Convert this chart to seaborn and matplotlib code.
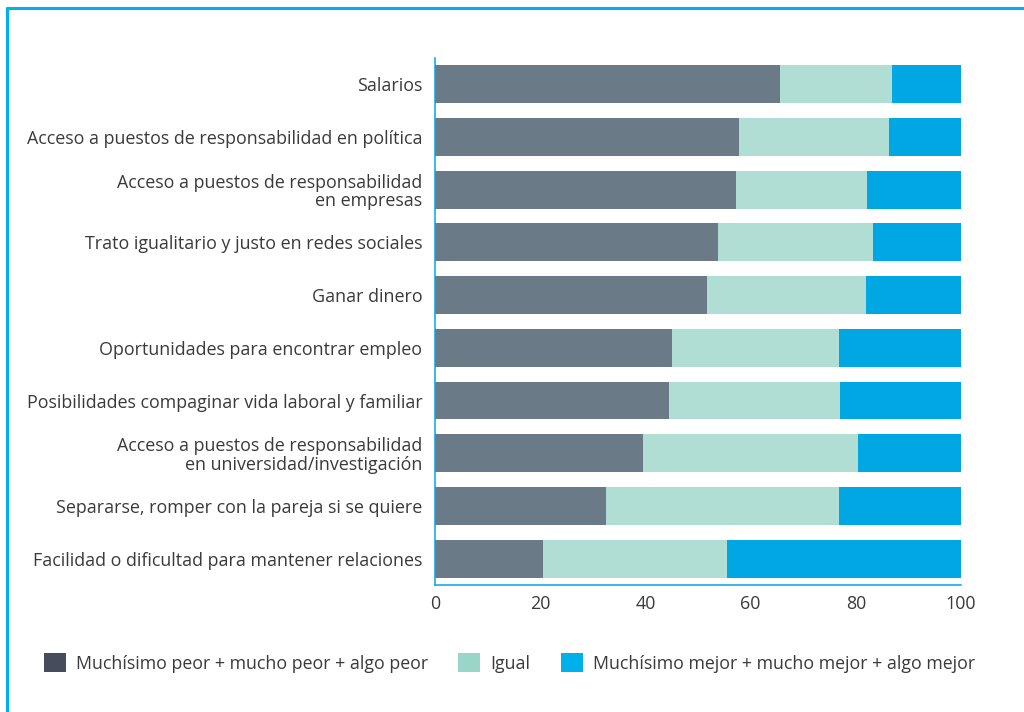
import seaborn as sns
import matplotlib.pyplot as plt
import pandas as pd
from matplotlib.patches import Patch
from matplotlib.lines import Line2D

categories = [
    "Salarios",
    "Acceso a puestos de responsabilidad en política",
    "Acceso a puestos de responsabilidad\nen empresas",
    "Trato igualitario y justo en redes sociales",
    "Ganar dinero",
    "Oportunidades para encontrar empleo",
    "Posibilidades compaginar vida laboral y familiar",
    "Acceso a puestos de responsabilidad\nen universidad/investigación",
    "Separarse, romper con la pareja si se quiere",
    "Facilidad o dificultad para mantener relaciones",
]
peor = [65.6, 57.8, 57.2, 53.8, 51.7, 45.1, 44.5, 39.5, 32.5, 20.5]
igual = [21.3, 28.5, 24.9, 29.5, 30.2, 31.7, 32.5, 40.9, 44.3, 35.0]
mejor = [13.1, 13.7, 17.9, 16.7, 18.1, 23.2, 23.0, 19.6, 23.2, 44.5]

series = [
    "Muchísimo peor + mucho peor + algo peor",
    "Igual",
    "Muchísimo mejor + mucho mejor + algo mejor",
]
bar_colors = ["#6a7b87", "#b0ddd4", "#00a7e3"]
legend_colors = ["#454d5c", "#99d5c9", "#00b0eb"]

sns.set_theme(style="white")
plt.rcParams["font.family"] = ["Open Sans", "DejaVu Sans"]
text_color = "#3a3a3a"
cyan = "#00a7e3"

df = pd.DataFrame({"cat": categories, "peor": peor, "igual": igual, "mejor": mejor})
df["c1"] = df["peor"]
df["c2"] = df["peor"] + df["igual"]
df["c3"] = df["c2"] + df["mejor"]

fig = plt.figure(figsize=(10.24, 7.12), dpi=100)
ax = fig.add_axes([0.4248, 0.1784, 0.5137, 0.7402])

# stacked bars: draw cumulative totals from the back to the front
for col, color in zip(["c3", "c2", "c1"], bar_colors[::-1]):
    sns.barplot(data=df, x=col, y="cat", color=color, width=0.72,
                linewidth=0, saturation=1, ax=ax, orient="h")

ax.set_xlim(0, 100)
ax.set_ylim(9.5, -0.5)
ax.set_xticks([0, 20, 40, 60, 80, 100])
ax.set_xlabel("")
ax.set_ylabel("")
ax.tick_params(axis="both", length=0, labelsize=12.9, colors=text_color)
ax.tick_params(axis="y", pad=9)
ax.tick_params(axis="x", pad=7)
for lbl in ax.get_yticklabels():
    lbl.set_linespacing(1.05)

for side in ["top", "right"]:
    ax.spines[side].set_visible(False)
for side in ["left", "bottom"]:
    ax.spines[side].set_color(cyan)
    ax.spines[side].set_linewidth(1.1)

handles = [Patch(facecolor=c, edgecolor="none", label=s)
           for c, s in zip(legend_colors, series)]
leg = fig.legend(handles=handles, loc="center left", bbox_to_anchor=(0.036, 0.069),
                 ncol=3, frameon=False, fontsize=12.8, handlelength=1.24,
                 handleheight=1.24, handletextpad=0.56, columnspacing=1.7,
                 borderaxespad=0)
for t in leg.get_texts():
    t.set_color(text_color)

# cyan frame
frame_color = "#00b0eb"
fig.add_artist(Line2D([0.0068, 1.0], [0.9888, 0.9888], transform=fig.transFigure,
                      color=frame_color, linewidth=2.2))
fig.add_artist(Line2D([0.0068, 0.0068], [0.0, 0.9888], transform=fig.transFigure,
                      color=frame_color, linewidth=2.2))

fig.savefig("out.png", dpi=100)
